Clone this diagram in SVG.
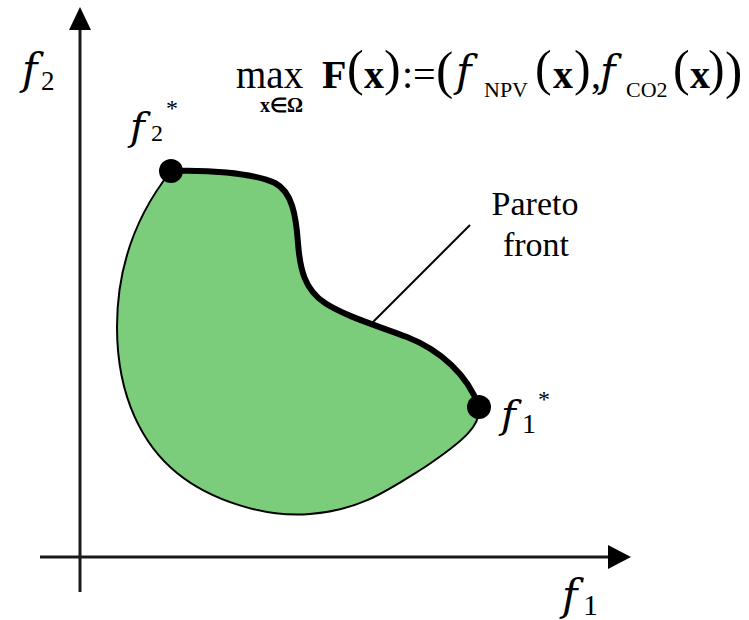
<svg xmlns="http://www.w3.org/2000/svg" width="749" height="620" viewBox="0 0 749 620">
<style>
.it{font-style:italic;font-family:"DejaVu Serif",serif}
.b{font-weight:bold}
.axis{stroke:#1a1a1a;stroke-width:3;fill:none}
.dot{fill:#000}
</style>
<rect width="749" height="620" fill="#fff"/>
<g id="axes">
<line class="axis" x1="80" y1="592" x2="80" y2="28"/>
<polygon points="80,7 69,30 91,30" fill="#000"/>
<line class="axis" x1="40" y1="557" x2="610" y2="557"/>
<polygon points="631,557 608,545 608,569" fill="#000"/>
</g>
<g id="region">
<path d="M171,171 C205,170 250,172 275,183 C292,192 296,215 298,243 C300,270 305,290 325,303 C345,316 375,325 407,337 C440,350 468,375 479,407 C481,425 465,440 425,467 C385,492 360,510 310,514 C265,518 210,500 177,473 C145,447 117,400 117,327 C117,260 140,210 171,171 Z" fill="#7bcc7b" stroke="#000" stroke-width="2"/>
</g>
<g id="pareto-front">
<path d="M171,171 C205,170 250,172 275,183 C292,192 296,215 298,243 C300,270 305,290 325,303 C345,316 375,325 407,337 C440,350 468,375 479,407" fill="none" stroke="#000" stroke-width="6"/>
</g>
<g id="connectors">
<line x1="470" y1="225" x2="370" y2="325" stroke="#000" stroke-width="2"/>
</g>
<g font-family="Liberation Serif, Times New Roman, serif" fill="#000">
<g id="f2star">
<circle class="dot" cx="171" cy="171" r="12"/>
<text font-size="24"><tspan class="it" x="130" y="140" font-size="40">f</tspan><tspan x="151" y="141">2</tspan><tspan x="166" y="116">*</tspan></text>
</g>
<g id="f1star">
<circle class="dot" cx="479" cy="407" r="12"/>
<text font-size="28"><tspan class="it" x="501" y="428" font-size="40">f</tspan><tspan x="522" y="433">1</tspan><tspan x="538" y="407" font-size="24">*</tspan></text>
</g>
<g id="label-f2">
<text font-size="27"><tspan class="it" x="22" y="84" font-size="42">f</tspan><tspan x="41" y="90">2</tspan></text>
</g>
<g id="label-f1">
<text font-size="30"><tspan class="it" x="562" y="610" font-size="42">f</tspan><tspan x="583" y="615">1</tspan></text>
</g>
<g id="label-pareto">
<text x="535" y="215" font-size="34" text-anchor="middle">Pareto</text>
<text x="536" y="256" font-size="34" text-anchor="middle">front</text>
</g>
<g id="formula">
<text x="236" y="88" font-size="39">max</text>
<text class="b" x="260" y="112" font-size="20">x∈Ω</text>
<text font-size="40"><tspan class="b" x="322" y="88">F</tspan><tspan x="347" y="85" font-size="50">(</tspan><tspan class="b" x="364" y="88">x</tspan><tspan x="384" y="85" font-size="50">)</tspan><tspan x="402" y="88">:=</tspan><tspan x="436" y="88" font-size="52">(</tspan><tspan class="it" x="456" y="86" font-size="42">f</tspan><tspan x="484" y="97" font-size="22">NPV</tspan><tspan x="535" y="85" font-size="50">(</tspan><tspan class="b" x="553" y="88">x</tspan><tspan x="574" y="85" font-size="50">)</tspan><tspan x="591" y="88">,</tspan><tspan class="it" x="600" y="86" font-size="42">f</tspan><tspan x="626" y="97" font-size="22">CO2</tspan><tspan x="673" y="85" font-size="50">(</tspan><tspan class="b" x="690" y="88">x</tspan><tspan x="708" y="85" font-size="50">)</tspan><tspan x="725" y="88" font-size="52">)</tspan></text>
</g>
</g>
</svg>
